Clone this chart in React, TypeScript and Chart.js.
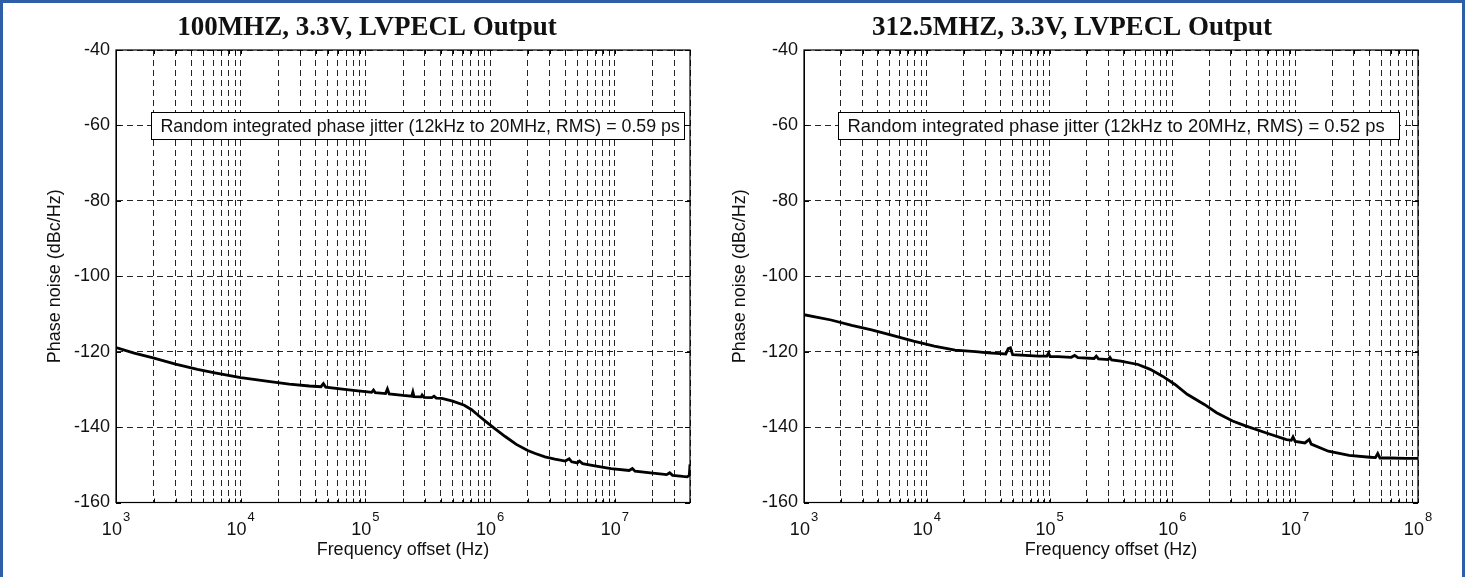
import React, { useEffect, useRef } from 'react';
import { Chart, registerables } from 'chart.js';

Chart.register(...registerables);

// ---------- text ----------
const TITLE_100 = '100MHZ, 3.3V, LVPECL Output';
const TITLE_312 = '312.5MHZ, 3.3V, LVPECL Output';
const JITTER_100 = 'Random integrated phase jitter (12kHz to 20MHz, RMS) = 0.59 ps';
const JITTER_312 = 'Random integrated phase jitter (12kHz to 20MHz, RMS) = 0.52 ps';
const Y_TITLE = 'Phase noise (dBc/Hz)';
const X_TITLE = 'Frequency offset (Hz)';

// ---------- axes ----------
const Y_MIN = -160;
const Y_MAX = -40;
const Y_STEP = 20;
const X_MIN = 1000;
const X_MAX_100 = 4e7;
const X_MAX_312 = 1e8;
const DECADES_100 = [3, 4, 5, 6, 7];
const DECADES_312 = [3, 4, 5, 6, 7, 8];
const MANTISSAS = [1, 2, 3, 4, 5, 6, 7, 8, 9];
const JITTER_BOX_X = 1900; // Hz, left edge of annotation box
const JITTER_BOX_Y = -60; // dBc/Hz, vertical centre of annotation box

// ---------- 100 MHz series ----------
const freq100 = [
  1000, 1400, 1950, 3000, 4500, 6200, 10000, 12300, 17800, 24500, 35500, 44000,
  46000, 48000, 68000, 87000, 100000, 112000, 116000, 120000, 145000, 150000,
  155000, 200000, 235000, 240000, 245000, 280000, 285000, 295000, 340000, 355000,
  370000, 410000, 500000, 620000, 710000, 810000, 930000, 1.07e6, 1.32e6, 1.62e6,
  2.0e6, 2.3e6, 2.75e6, 3.3e6, 4.0e6, 4.3e6, 4.5e6, 5.0e6, 5.2e6, 5.5e6, 6.9e6,
  9.3e6, 1.3e7, 1.38e7, 1.45e7, 1.85e7, 2.6e7, 2.75e7, 2.9e7, 3.5e7, 3.8e7,
  3.95e7, 4e7,
];
const noise100 = [
  -118.9, -120.4, -121.6, -123.3, -124.7, -125.6, -126.9, -127.3, -128.0, -128.6,
  -129.1, -129.3, -128.5, -129.4, -130.0, -130.4, -130.6, -130.8, -130.2, -130.9,
  -131.1, -129.9, -131.2, -131.6, -131.8, -130.7, -131.9, -132.0, -131.5, -132.1,
  -132.2, -131.8, -132.3, -132.4, -133.1, -134.2, -135.4, -137.0, -138.6, -140.2,
  -142.5, -144.6, -146.2, -147.0, -147.9, -148.5, -149.0, -148.4, -149.2, -149.5,
  -149.0, -149.7, -150.3, -151.0, -151.5, -151.0, -151.7, -152.1, -152.6, -152.1,
  -152.8, -153.1, -153.2, -152.8, -149.9,
];

// ---------- 312.5 MHz series ----------
const freq312 = [
  1000, 1660, 2450, 3550, 5250, 7800, 11500, 17000, 25000, 31600, 40000, 44000,
  46000, 48000, 50000, 81000, 95000, 98000, 101000, 117000, 150000, 160000,
  170000, 230000, 240000, 250000, 300000, 310000, 320000, 380000, 525000, 660000,
  830000, 1.05e6, 1.32e6, 1.82e6, 2.29e6, 3.09e6, 3.89e6, 5.75e6, 8.5e6, 9.3e6,
  9.6e6, 1.0e7, 1.2e7, 1.3e7, 1.35e7, 1.86e7, 2.75e7, 4.07e7, 4.5e7, 4.7e7,
  4.9e7, 6.0e7, 8.0e7, 1e8,
];
const noise312 = [
  -110.2, -111.6, -113.0, -114.2, -115.7, -117.2, -118.5, -119.6, -120.0, -120.3,
  -120.5, -120.6, -119.2, -119.0, -120.8, -121.2, -121.2, -120.4, -121.3, -121.3,
  -121.5, -121.0, -121.6, -121.8, -121.2, -121.9, -122.1, -121.5, -122.2, -122.5,
  -123.4, -124.7, -126.5, -128.7, -131.3, -134.0, -136.2, -138.4, -139.6, -141.5,
  -143.3, -143.5, -142.6, -143.8, -144.2, -143.3, -144.5, -146.4, -147.5, -148.0,
  -148.1, -147.0, -148.2, -148.2, -148.3, -148.3,
];

const SANS = '"Liberation Sans", Arial, Helvetica, sans-serif';
const SERIF = '"Liberation Serif", "Times New Roman", Times, serif';

type Spec = {
  title: string;
  jitter: string;
  jitterFont: number;
  jitterExtra: number;
  freqs: number[];
  values: number[];
  xMax: number;
  decades: number[];
  left: number;
  width: number;
  padLeft: number;
  padRight: number;
  yWidth: number;
  yTitlePad: number;
};

function logTicks(decades: number[], max: number) {
  const out: { value: number }[] = [];
  decades.forEach((d) => {
    MANTISSAS.forEach((m) => {
      const v = m * Math.pow(10, d);
      if (v >= X_MIN && v <= max * 1.0001) out.push({ value: v });
    });
  });
  return out;
}

function makeConfig(spec: Spec): any {
  const framePlugin = {
    id: 'matlabFrame',
    afterDraw(chart: any) {
      const { ctx, chartArea: a, scales } = chart;
      const xs = scales.x;
      const ys = scales.y;
      ctx.save();
      // inward tick marks
      ctx.strokeStyle = '#000';
      ctx.lineWidth = 1;
      ctx.setLineDash([]);
      ctx.beginPath();
      xs.ticks.forEach((t: any) => {
        const px = Math.round(xs.getPixelForValue(t.value)) + 0.5;
        ctx.moveTo(px, a.bottom);
        ctx.lineTo(px, a.bottom - 4);
        ctx.moveTo(px, a.top);
        ctx.lineTo(px, a.top + 4);
      });
      ys.ticks.forEach((t: any) => {
        const py = Math.round(ys.getPixelForValue(t.value)) + 0.5;
        ctx.moveTo(a.left, py);
        ctx.lineTo(a.left + 5, py);
        ctx.moveTo(a.right, py);
        ctx.lineTo(a.right - 5, py);
      });
      ctx.stroke();
      // box
      ctx.lineWidth = 1.2;
      ctx.strokeRect(a.left, a.top, a.right - a.left, a.bottom - a.top);

      // decade labels 10^n
      ctx.fillStyle = '#111';
      ctx.textBaseline = 'alphabetic';
      ctx.textAlign = 'left';
      spec.decades.forEach((d) => {
        const px = xs.getPixelForValue(Math.pow(10, d));
        ctx.font = `18px ${SANS}`;
        const w1 = ctx.measureText('10').width;
        ctx.font = `13px ${SANS}`;
        const w2 = ctx.measureText(String(d)).width;
        const x0 = px - (w1 + w2 + 1) / 2;
        ctx.font = `18px ${SANS}`;
        ctx.fillText('10', x0, a.bottom + 32);
        ctx.font = `13px ${SANS}`;
        ctx.fillText(String(d), x0 + w1 + 1, a.bottom + 18);
      });

      // jitter annotation box
      ctx.font = `${spec.jitterFont}px ${SANS}`;
      const tw = ctx.measureText(spec.jitter).width;
      const bx = Math.round(xs.getPixelForValue(JITTER_BOX_X)) + 0.5;
      const cy = ys.getPixelForValue(JITTER_BOX_Y);
      const by = Math.round(cy - 13) + 0.5;
      const bw = Math.round(tw + spec.jitterExtra);
      const bh = 27;
      ctx.fillStyle = '#fff';
      ctx.fillRect(bx, by, bw, bh);
      ctx.strokeStyle = '#000';
      ctx.lineWidth = 1;
      ctx.strokeRect(bx, by, bw, bh);
      ctx.fillStyle = '#111';
      ctx.textBaseline = 'middle';
      ctx.fillText(spec.jitter, bx + 9, by + bh / 2 + 1);
      ctx.restore();
    },
  };

  return {
    type: 'line',
    data: {
      datasets: [
        {
          data: spec.freqs.map((f, i) => ({ x: f, y: spec.values[i] })),
          borderColor: '#000',
          borderWidth: 2.8,
          pointRadius: 0,
          tension: 0,
          fill: false,
        },
      ],
    },
    plugins: [framePlugin],
    options: {
      animation: false,
      responsive: false,
      maintainAspectRatio: false,
      layout: { padding: { left: spec.padLeft, right: spec.padRight, top: 0, bottom: 0 } },
      plugins: {
        legend: { display: false },
        tooltip: { enabled: false },
        title: {
          display: true,
          text: spec.title,
          color: '#111',
          font: { family: SERIF, size: 27, weight: 'bold' },
          padding: { top: 12, bottom: 5.6 },
        },
      },
      scales: {
        x: {
          type: 'logarithmic',
          min: X_MIN,
          max: spec.xMax,
          afterBuildTicks: (scale: any) => {
            scale.ticks = logTicks(spec.decades, spec.xMax);
          },
          afterFit: (scale: any) => {
            scale.height = 74.5;
          },
          ticks: { display: false, autoSkip: false },
          grid: { color: 'rgba(0,0,0,0.85)', lineWidth: 1, drawTicks: false },
          border: { display: true, color: '#000', width: 1, dash: [6, 4] },
          title: {
            display: true,
            text: X_TITLE,
            color: '#111',
            font: { family: SANS, size: 18 },
            padding: { top: 0, bottom: 16 },
          },
        },
        y: {
          type: 'linear',
          min: Y_MIN,
          max: Y_MAX,
          afterFit: (scale: any) => {
            scale.width = spec.yWidth;
          },
          ticks: {
            stepSize: Y_STEP,
            color: '#111',
            font: { family: SANS, size: 18 },
            padding: 6,
            callback: (v: any) => String(v),
          },
          grid: { color: 'rgba(0,0,0,0.85)', lineWidth: 1, drawTicks: false },
          border: { display: true, color: '#000', width: 1, dash: [6, 4] },
          title: {
            display: true,
            text: Y_TITLE,
            color: '#111',
            font: { family: SANS, size: 18 },
            padding: { top: spec.yTitlePad, bottom: 0 },
          },
        },
      },
    },
  };
}

function PhaseChart({ spec }: { spec: Spec }) {
  const ref = useRef<HTMLCanvasElement>(null);
  useEffect(() => {
    const chart = new Chart(ref.current as HTMLCanvasElement, makeConfig(spec));
    return () => chart.destroy();
  }, []);
  return (
    <canvas
      ref={ref}
      width={spec.width}
      height={577}
      style={{ position: 'absolute', left: spec.left, top: 0, width: spec.width, height: 577 }}
    />
  );
}

const LEFT_SPEC: Spec = {
  title: TITLE_100,
  jitter: JITTER_100,
  jitterFont: 17.8,
  jitterExtra: 14,
  freqs: freq100,
  values: noise100,
  xMax: X_MAX_100,
  decades: DECADES_100,
  left: 0,
  width: 720,
  padLeft: 44,
  padRight: 30,
  yWidth: 72,
  yTitlePad: 0,
};

const RIGHT_SPEC: Spec = {
  title: TITLE_312,
  jitter: JITTER_312,
  jitterFont: 18.4,
  jitterExtra: 24,
  freqs: freq312,
  values: noise312,
  xMax: X_MAX_312,
  decades: DECADES_312,
  left: 720,
  width: 745,
  padLeft: 6,
  padRight: 47,
  yWidth: 78,
  yTitlePad: 3,
};

export default function App() {
  return (
    <div
      style={{
        position: 'fixed',
        left: 0,
        top: 0,
        width: 1465,
        height: 577,
        background: '#fff',
        overflow: 'hidden',
      }}
    >
      <PhaseChart spec={LEFT_SPEC} />
      <PhaseChart spec={RIGHT_SPEC} />
      <div
        style={{
          position: 'absolute',
          left: 0,
          top: 0,
          width: 1465,
          height: 577,
          boxSizing: 'border-box',
          borderTop: '3px solid #2f5ea8',
          borderLeft: '3px solid #2f5ea8',
          borderRight: '3px solid #2f5ea8',
          pointerEvents: 'none',
        }}
      />
    </div>
  );
}
